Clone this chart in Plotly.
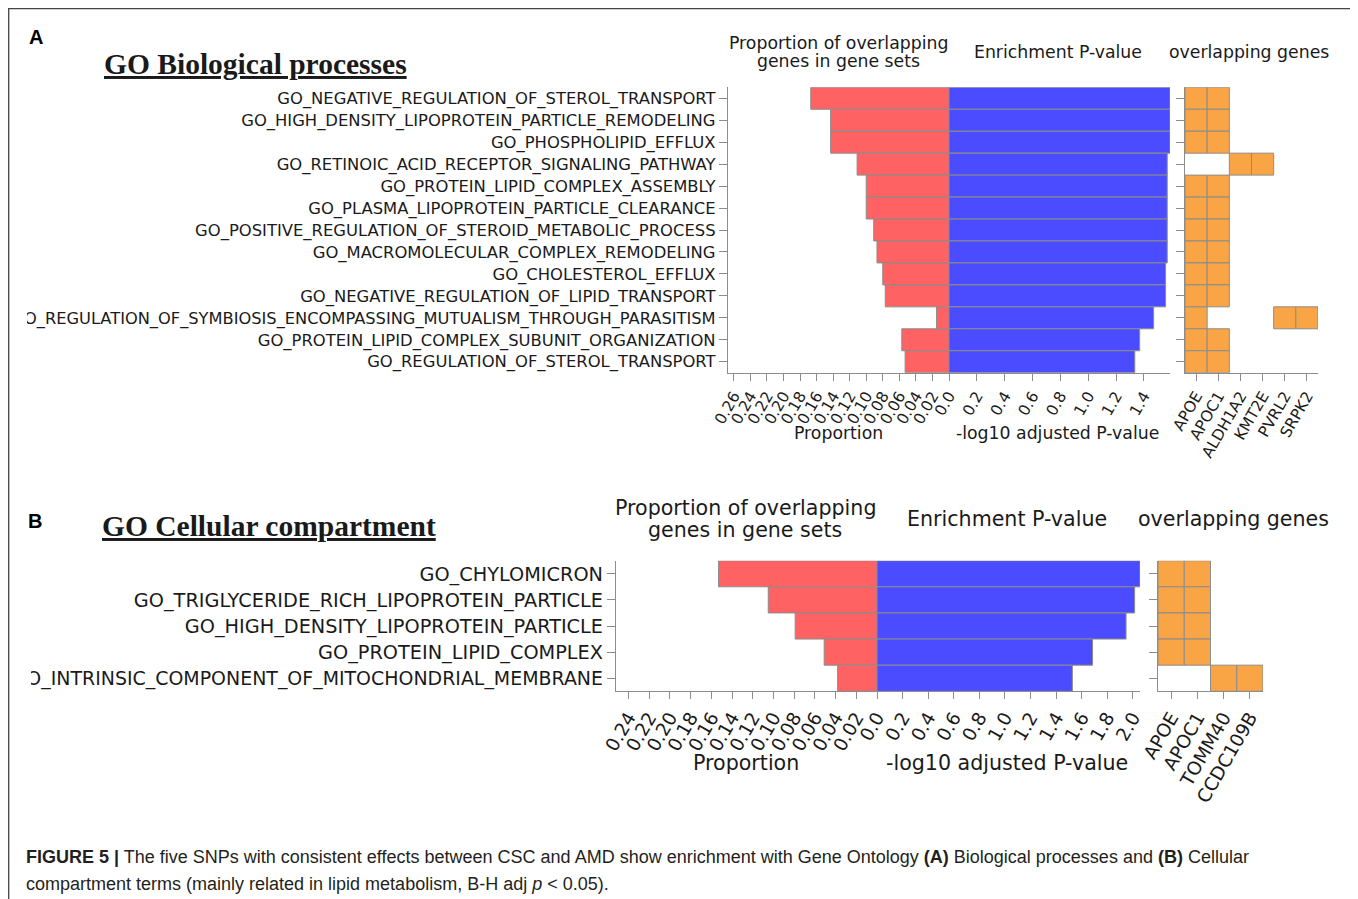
import plotly.graph_objects as go

# page body has an 8px margin: the figure is placed at (8, 8) inside the 1358x899 window
OFF = 8
W, H = 1358 - OFF, 899 - OFF

# ---------------- Data ----------------
A_terms = [
    "GO_NEGATIVE_REGULATION_OF_STEROL_TRANSPORT",
    "GO_HIGH_DENSITY_LIPOPROTEIN_PARTICLE_REMODELING",
    "GO_PHOSPHOLIPID_EFFLUX",
    "GO_RETINOIC_ACID_RECEPTOR_SIGNALING_PATHWAY",
    "GO_PROTEIN_LIPID_COMPLEX_ASSEMBLY",
    "GO_PLASMA_LIPOPROTEIN_PARTICLE_CLEARANCE",
    "GO_POSITIVE_REGULATION_OF_STEROID_METABOLIC_PROCESS",
    "GO_MACROMOLECULAR_COMPLEX_REMODELING",
    "GO_CHOLESTEROL_EFFLUX",
    "GO_NEGATIVE_REGULATION_OF_LIPID_TRANSPORT",
    "GO_REGULATION_OF_SYMBIOSIS_ENCOMPASSING_MUTUALISM_THROUGH_PARASITISM",
    "GO_PROTEIN_LIPID_COMPLEX_SUBUNIT_ORGANIZATION",
    "GO_REGULATION_OF_STEROL_TRANSPORT",
]
A_prop = [0.167, 0.143, 0.143, 0.111, 0.100, 0.100, 0.091, 0.087, 0.080, 0.077, 0.015, 0.057, 0.053]
A_pval = [1.588, 1.588, 1.588, 1.568, 1.568, 1.568, 1.568, 1.568, 1.556, 1.556, 1.470, 1.370, 1.335]
A_genes = ["APOE", "APOC1", "ALDH1A2", "KMT2E", "PVRL2", "SRPK2"]
A_members = [
    ["APOE", "APOC1"], ["APOE", "APOC1"], ["APOE", "APOC1"],
    ["ALDH1A2", "KMT2E"],
    ["APOE", "APOC1"], ["APOE", "APOC1"], ["APOE", "APOC1"],
    ["APOE", "APOC1"], ["APOE", "APOC1"], ["APOE", "APOC1"],
    ["APOE", "PVRL2", "SRPK2"],
    ["APOE", "APOC1"], ["APOE", "APOC1"],
]
A_prop_ticks = [0.0, 0.02, 0.04, 0.06, 0.08, 0.10, 0.12, 0.14, 0.16, 0.18, 0.20, 0.22, 0.24, 0.26]
A_prop_labels = ["0.0", "0.02", "0.04", "0.06", "0.08", "0.10", "0.12", "0.14", "0.16", "0.18", "0.20", "0.22", "0.24", "0.26"]
A_p_ticks = [0.0, 0.2, 0.4, 0.6, 0.8, 1.0, 1.2, 1.4]
A_p_labels = ["", "0.2", "0.4", "0.6", "0.8", "1.0", "1.2", "1.4"]
A_prop_max = 0.267
A_p_max = 1.588

B_terms = [
    "GO_CHYLOMICRON",
    "GO_TRIGLYCERIDE_RICH_LIPOPROTEIN_PARTICLE",
    "GO_HIGH_DENSITY_LIPOPROTEIN_PARTICLE",
    "GO_PROTEIN_LIPID_COMPLEX",
    "GO_INTRINSIC_COMPONENT_OF_MITOCHONDRIAL_MEMBRANE",
]
B_prop = [0.153, 0.105, 0.079, 0.051, 0.038]
B_pval = [2.056, 2.014, 1.947, 1.685, 1.527]
B_genes = ["APOE", "APOC1", "TOMM40", "CCDC109B"]
B_members = [
    ["APOE", "APOC1"], ["APOE", "APOC1"], ["APOE", "APOC1"], ["APOE", "APOC1"],
    ["TOMM40", "CCDC109B"],
]
B_prop_ticks = [0.0, 0.02, 0.04, 0.06, 0.08, 0.10, 0.12, 0.14, 0.16, 0.18, 0.20, 0.22, 0.24]
B_prop_labels = ["0.0", "0.02", "0.04", "0.06", "0.08", "0.10", "0.12", "0.14", "0.16", "0.18", "0.20", "0.22", "0.24"]
B_p_ticks = [0.0, 0.2, 0.4, 0.6, 0.8, 1.0, 1.2, 1.4, 1.6, 1.8, 2.0]
B_p_labels = ["", "0.2", "0.4", "0.6", "0.8", "1.0", "1.2", "1.4", "1.6", "1.8", "2.0"]
B_prop_max = 0.252
B_p_max = 2.056

# ---------------- Styles ----------------
RED = "#FF6262"
BLUE = "#4B4BFF"
ORANGE = "#F9A545"
EDGE = "#8C8C8C"
SPINE = "#8C8C8C"
TXT = "#1a1a1a"
FONT = "DejaVu Sans"


def px(x):
    return (x - OFF) / W


def py(y):
    return 1 - (y - OFF) / H


def fit_labels(terms, size, long_size, limit):
    # very long labels get a marginally smaller font so they stay inside the page
    out = []
    for t in terms:
        if len(t) >= limit:
            out.append('<span style="font-size:%spx">%s</span>' % (long_size, t))
        else:
            out.append(t)
    return out


fig = go.Figure()
layout = dict(
    width=W, height=H, margin=dict(l=0, r=0, t=0, b=0),
    paper_bgcolor="white", plot_bgcolor="white",
    showlegend=False, barmode="overlay",
)


def axis_common(**kw):
    d = dict(showgrid=False, zeroline=False, showline=True, linecolor=SPINE, linewidth=1.3,
             ticks="outside", tickcolor=SPINE, tickwidth=1.3, automargin=False)
    d.update(kw)
    return d


def add_panel(terms, ylabels, prop, pval, genes, members, ids, doms, ydom,
              prop_max, p_max, prop_ticks, prop_labels, p_ticks, p_labels,
              yfs, xfs, ticklen):
    xr, xb, xh, ym, yh = ids
    n = len(terms)
    rows = list(range(n))
    fig.add_trace(go.Bar(
        x=prop, y=rows, orientation="h", width=1, xaxis=xr, yaxis=ym,
        marker=dict(color=RED, line=dict(color=EDGE, width=1))))
    fig.add_trace(go.Bar(
        x=pval, y=rows, orientation="h", width=1, xaxis=xb, yaxis=ym,
        marker=dict(color=BLUE, line=dict(color=EDGE, width=1))))
    hx, hy, hb = [], [], []
    for i, mem in enumerate(members):
        for g in mem:
            hy.append(i)
            hb.append(genes.index(g) - 0.5)
            hx.append(1)
    fig.add_trace(go.Bar(
        x=hx, y=hy, base=hb, orientation="h", width=1, xaxis=xh, yaxis=yh,
        marker=dict(color=ORANGE, line=dict(color=EDGE, width=1))))

    def key(a):
        return a.replace("x", "xaxis").replace("y", "yaxis")

    tf = dict(family=FONT, size=xfs, color=TXT)
    layout[key(xr)] = axis_common(domain=doms[0], anchor=ym, range=[prop_max, 0],
                                  tickmode="array", tickvals=prop_ticks, ticktext=prop_labels,
                                  tickangle=-60, tickfont=tf, ticklen=ticklen)
    layout[key(xb)] = axis_common(domain=doms[1], anchor=ym, range=[0, p_max],
                                  tickmode="array", tickvals=p_ticks, ticktext=p_labels,
                                  tickangle=-60, tickfont=tf, ticklen=ticklen)
    layout[key(xh)] = axis_common(domain=doms[2], anchor=yh, range=[-0.5, len(genes) - 0.5],
                                  tickmode="array", tickvals=list(range(len(genes))), ticktext=genes,
                                  tickangle=-60, tickfont=tf, ticklen=ticklen)
    layout[key(ym)] = axis_common(domain=ydom, anchor=xr, range=[n - 0.5, -0.5],
                                  tickmode="array", tickvals=rows, ticktext=ylabels,
                                  tickfont=dict(family=FONT, size=yfs, color=TXT), ticklen=ticklen + 1)
    layout[key(yh)] = axis_common(domain=ydom, anchor=xh, range=[n - 0.5, -0.5],
                                  tickmode="array", tickvals=rows, showticklabels=False,
                                  ticklen=ticklen + 1)


# Panel A
add_panel(A_terms, fit_labels(A_terms, 16.4, 16.25, 60), A_prop, A_pval, A_genes, A_members,
          ("x", "x2", "x3", "y", "y3"),
          ([px(728), px(949)], [px(949), px(1170)], [px(1185), px(1318)]),
          [py(372.7), py(87.3)],
          A_prop_max, A_p_max, A_prop_ticks, A_prop_labels, A_p_ticks, A_p_labels,
          16.4, 15.5, 7)
# Panel B
add_panel(B_terms, fit_labels(B_terms, 19.3, 18.95, 45), B_prop, B_pval, B_genes, B_members,
          ("x4", "x5", "x6", "y4", "y6"),
          ([px(616), px(877)], [px(877), px(1140)], [px(1158), px(1263)]),
          [py(691.3), py(560.7)],
          B_prop_max, B_p_max, B_prop_ticks, B_prop_labels, B_p_ticks, B_p_labels,
          19.3, 18.5, 7)

fig.update_layout(**layout)

ann = []


def txt(x, y, s, size, family=FONT, xanchor="center", **fontkw):
    f = dict(family=family, size=size, color=TXT)
    f.update(fontkw)
    ann.append(dict(x=px(x), y=py(y), xref="paper", yref="paper", text=s, showarrow=False,
                    xanchor=xanchor, yanchor="middle", font=f))


# Panel A headings
txt(838, 43, "Proportion of overlapping", 17.3)
txt(838, 61, "genes in gene sets", 17.3)
txt(1058, 52, "Enrichment P-value", 17.3)
txt(1249, 52, "overlapping genes", 17.3)
txt(838, 433, "Proportion", 17.3)
txt(1057, 433, "-log10 adjusted P-value", 17.3)
# Panel B headings
txt(745, 508, "Proportion of overlapping", 20.6)
txt(745, 530, "genes in gene sets", 20.6)
txt(1007, 519, "Enrichment P-value", 20.6)
txt(1233, 519, "overlapping genes", 20.6)
txt(746, 763, "Proportion", 20.6)
txt(1007, 763, "-log10 adjusted P-value", 20.6)
# Titles
txt(102, 64, "<b>GO Biological processes</b>", 29.5, family="Liberation Serif", xanchor="left",
    lineposition="under")
txt(100, 526, "<b>GO Cellular compartment</b>", 29.5, family="Liberation Serif", xanchor="left",
    lineposition="under")
txt(27, 37, "<b>A</b>", 20, family="Liberation Sans", xanchor="left", color="black")
txt(26, 521, "<b>B</b>", 20, family="Liberation Sans", xanchor="left", color="black")
# Caption
txt(24, 857, "<b>FIGURE 5 |</b> The five SNPs with consistent effects between CSC and AMD show "
    "enrichment with Gene Ontology <b>(A)</b> Biological processes and <b>(B)</b> Cellular",
    18, family="Liberation Sans", xanchor="left", color="#231f20")
txt(24, 884, "compartment terms (mainly related in lipid metabolism, B-H adj <i>p</i> &lt; 0.05).",
    18, family="Liberation Sans", xanchor="left", color="#231f20")

shapes = [
    # the source image is cropped through the two longest labels
    dict(type="rect", xref="paper", yref="paper", x0=px(9), x1=px(27), y0=py(329), y1=py(307),
         fillcolor="white", line=dict(width=0), layer="above"),
    dict(type="rect", xref="paper", yref="paper", x0=px(9), x1=px(31), y0=py(692), y1=py(665),
         fillcolor="white", line=dict(width=0), layer="above"),
    # figure frame
    dict(type="rect", xref="paper", yref="paper", x0=px(8.7), x1=px(1352), y0=-0.02, y1=py(8.7),
         fillcolor="rgba(0,0,0,0)", line=dict(color="#444", width=1.3), layer="above"),
]

fig.update_layout(annotations=ann, shapes=shapes)
fig.write_html("out.html")
